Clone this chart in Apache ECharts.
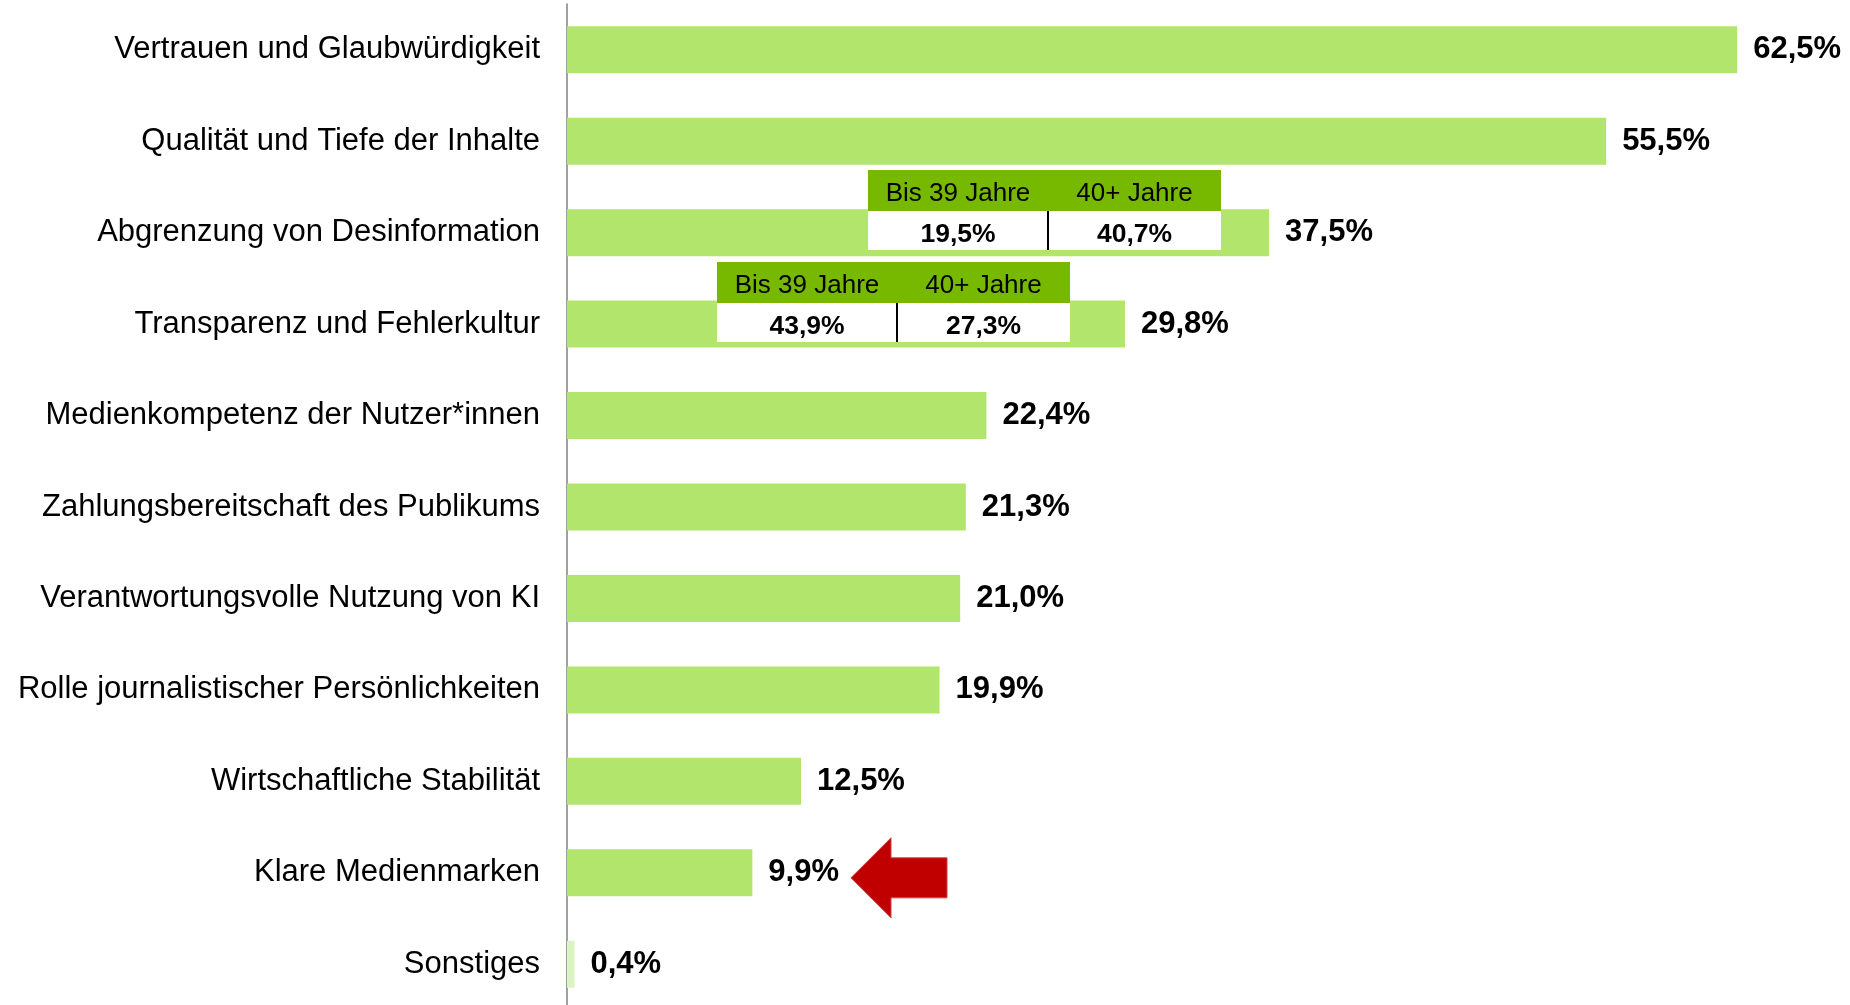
<!DOCTYPE html>
<html>
<head>
<meta charset="utf-8">
<script src="https://cdn.jsdelivr.net/npm/echarts@6/dist/echarts.min.js"></script>
<style>
  html, body { margin: 0; padding: 0; background: #fff; overflow: hidden; }
  #main { width: 1850px; height: 1016px; }
</style>
</head>
<body>
<div id="main"></div>
<script>
// categories + values (top to bottom)
var categories = [
  'Vertrauen und Glaubwürdigkeit',
  'Qualität und Tiefe der Inhalte',
  'Abgrenzung von Desinformation',
  'Transparenz und Fehlerkultur',
  'Medienkompetenz der Nutzer*innen',
  'Zahlungsbereitschaft des Publikums',
  'Verantwortungsvolle Nutzung von KI',
  'Rolle journalistischer Persönlichkeiten',
  'Wirtschaftliche Stabilität',
  'Klare Medienmarken',
  'Sonstiges'
];
var values = [62.5, 55.5, 37.5, 29.8, 22.4, 21.3, 21.0, 19.9, 12.5, 9.9, 0.4];

// age breakdown shown as small tables
var tableRows = ['Abgrenzung von Desinformation', 'Transparenz und Fehlerkultur'];
var ageGroups = ['Bis 39 Jahre', '40+ Jahre'];
var youngValues = [19.5, 43.9];
var olderValues = [40.7, 27.3];

var highlighted = 'Klare Medienmarken';

var FONT = '"Liberation Sans", Arial, sans-serif';
var BAR_W = 47;
var tableStart = [16.1, 8.0]; // in axis units, left edge of each table
var colW = [180, 173];

function fmt(v) {
  return v.toFixed(1).replace('.', ',') + '%';
}

var chart = echarts.init(document.getElementById('main'));

var option = {
  animation: false,
  grid: { left: 567, top: 4, width: 1217, height: 1006, containLabel: false },
  xAxis: {
    type: 'value', min: 0, max: 65,
    show: false, splitLine: { show: false }
  },
  yAxis: {
    type: 'category', inverse: true, data: categories,
    axisLine: { show: true, lineStyle: { color: '#808080', width: 1.5 } },
    axisTick: { show: false },
    axisLabel: { color: '#000', fontSize: 31, fontFamily: FONT, margin: 27, padding: [5, 0, 0, 0] }
  },
  series: [{
    type: 'bar',
    barWidth: BAR_W,
    data: values.map(function (v) {
      return v < 1 ? { value: v, itemStyle: { color: '#dcf3c2' } } : v;
    }),
    itemStyle: { color: '#b2e56b' },
    label: {
      show: true, position: 'right', distance: 16, padding: [5, 0, 0, 0],
      color: '#000', fontSize: 31, fontWeight: 'bold', fontFamily: FONT,
      formatter: function (p) { return fmt(p.value); }
    }
  }]
};
chart.setOption(option);

// overlay: tables + arrow, anchored to the bars
var g = [];
tableRows.forEach(function (cat, i) {
  var p = chart.convertToPixel({ gridIndex: 0 }, [tableStart[i], cat]);
  var x0 = Math.round(p[0]);
  var barTop = Math.round(p[1] - BAR_W / 2);
  var hy = barTop - 39, hh = 41;
  var wy = barTop + 2, wh = 39;
  var total = colW[0] + colW[1];
  g.push({ type: 'rect', z: 100, shape: { x: x0, y: hy, width: total, height: hh }, style: { fill: '#77b900' } });
  g.push({ type: 'rect', z: 100, shape: { x: x0, y: wy, width: total, height: wh }, style: { fill: '#fff' } });
  var vals = [youngValues[i], olderValues[i]];
  var cx = x0;
  for (var c = 0; c < 2; c++) {
    var mid = cx + colW[c] / 2;
    g.push({ type: 'text', z: 101, style: {
      text: ageGroups[c], x: mid, y: hy + hh / 2 + 3.3, align: 'center', verticalAlign: 'middle',
      fill: '#000', fontSize: 26, fontFamily: FONT
    } });
    g.push({ type: 'text', z: 101, style: {
      text: fmt(vals[c]), x: mid, y: wy + wh / 2 + 4, align: 'center', verticalAlign: 'middle',
      fill: '#000', fontSize: 26.5, fontWeight: 'bold', fontFamily: FONT
    } });
    cx += colW[c];
  }
  g.push({ type: 'line', z: 101, shape: { x1: x0 + colW[0], y1: wy, x2: x0 + colW[0], y2: wy + wh }, style: { stroke: '#000', lineWidth: 2 } });
});

var ap = chart.convertToPixel({ gridIndex: 0 }, [0, highlighted]);
var ty = ap[1] + 5, tx = 851;
g.push({
  type: 'polygon', z: 100,
  shape: { points: [
    [tx, ty], [tx + 40, ty - 40], [tx + 40, ty - 20], [tx + 96, ty - 20],
    [tx + 96, ty + 20], [tx + 40, ty + 20], [tx + 40, ty + 40]
  ] },
  style: { fill: '#c00000', stroke: '#d04040', lineWidth: 1 }
});

chart.setOption({ graphic: g });
</script>
</body>
</html>
